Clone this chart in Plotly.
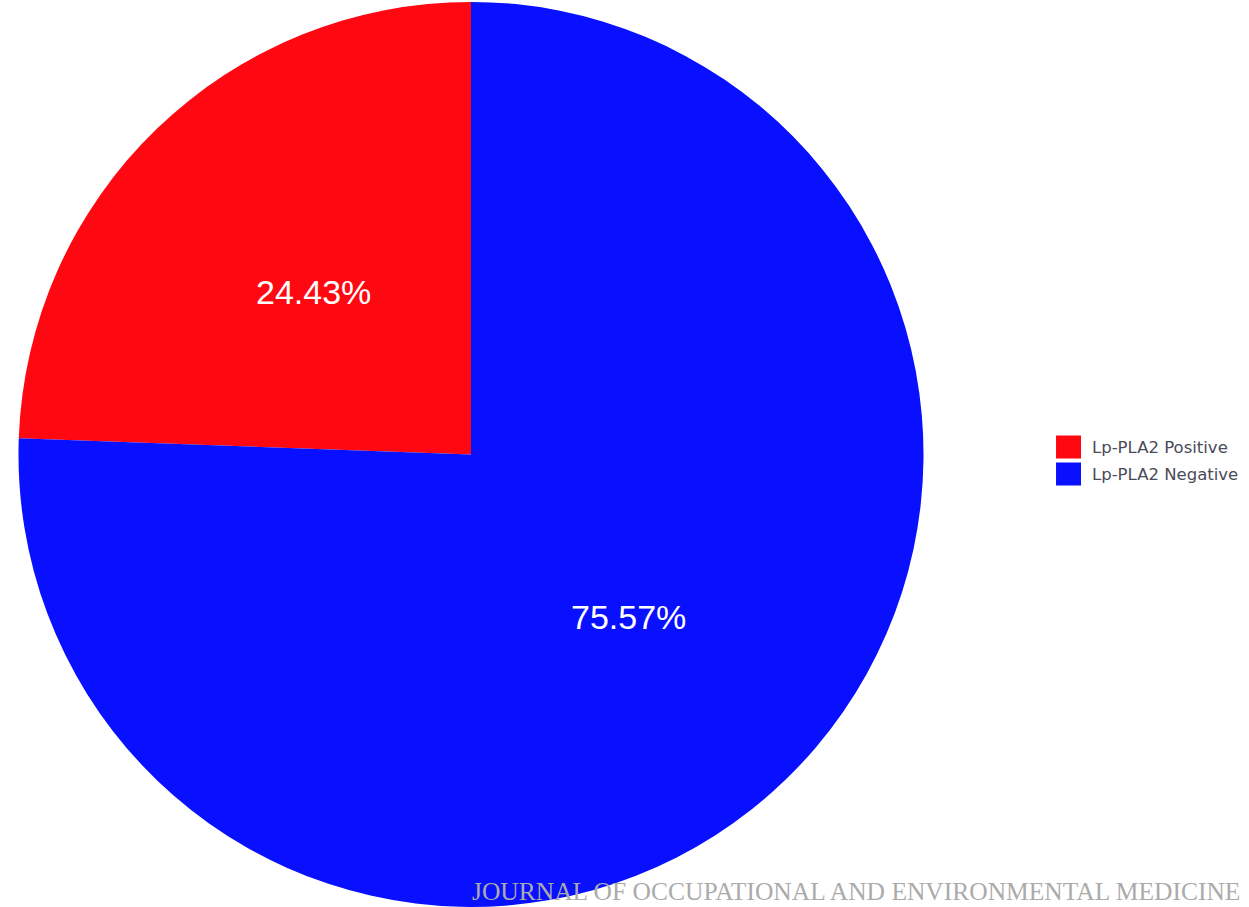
import math
import plotly.graph_objects as go

# Lp-PLA2 status share
categories = ["Lp-PLA2 Positive", "Lp-PLA2 Negative"]
shares = [24.43, 75.57]
colors = ["#FF0812", "#0810FF"]

W, H = 1249, 907
total = sum(shares)
# start the first wedge so that it ends at 12 o'clock, running counter-clockwise
first_angle = shares[0] / total * 360

dom_x = [0.0148, 0.7394]
dom_y = [0.0, 0.998]

fig = go.Figure()
fig.add_trace(go.Pie(
    labels=categories,
    values=shares,
    sort=False,
    direction="counterclockwise",
    rotation=-first_angle,
    marker=dict(colors=colors, line=dict(width=0)),
    textinfo="none",
    showlegend=False,
    hoverinfo="label+percent",
    domain=dict(x=dom_x, y=dom_y),
))

# Percentage labels placed halfway out along each wedge's bisector
cx = (dom_x[0] + dom_x[1]) / 2 * W
cy = (dom_y[0] + dom_y[1]) / 2 * H          # measured from the bottom
radius = min((dom_x[1] - dom_x[0]) * W, (dom_y[1] - dom_y[0]) * H) / 2
annotations = []
start = 0.0                                   # degrees counter-clockwise from 12 o'clock
for val in shares:
    sweep = val / total * 360
    mid = math.radians(start + sweep / 2)
    px = cx - 0.5 * radius * math.sin(mid)
    py = cy + 0.5 * radius * math.cos(mid)
    annotations.append(dict(xref="paper", yref="paper", x=px / W, y=py / H,
                            xanchor="center", yanchor="middle", showarrow=False,
                            text=f"{val:.2f}%",
                            font=dict(family="Liberation Sans, Arial, sans-serif",
                                      size=34, color="white")))
    start += sweep

# Legend drawn as colour keys beside the pie
key_x0, key_x1 = 0.8455, 0.8655
row_y = [447.0, 474.0]
shapes = []
for name, col, yc in zip(categories, colors, row_y):
    shapes.append(dict(type="rect", xref="paper", yref="paper",
                       x0=key_x0, x1=key_x1,
                       y0=1 - (yc + 11.5) / H, y1=1 - (yc - 11.5) / H,
                       fillcolor=col, line=dict(width=0)))
    annotations.append(dict(xref="paper", yref="paper", x=0.8725, y=1 - yc / H,
                            xanchor="left", yanchor="middle", showarrow=False,
                            text=name,
                            font=dict(family="DejaVu Sans, Verdana, sans-serif",
                                      size=16.5, color="#4a4a58")))

# Journal name along the bottom edge
annotations.append(dict(xref="paper", yref="paper", x=0.994, y=1 - 891 / H,
                        xanchor="right", yanchor="middle", showarrow=False,
                        text="JOURNAL OF OCCUPATIONAL AND ENVIRONMENTAL MEDICINE",
                        font=dict(family="Liberation Serif, Times New Roman, serif",
                                  size=25.5, color="#ababab")))

fig.update_layout(
    width=W, height=H,
    margin=dict(l=0, r=0, t=0, b=0),
    paper_bgcolor="white",
    plot_bgcolor="white",
    shapes=shapes,
    annotations=annotations,
)

fig.write_html("out.html")
